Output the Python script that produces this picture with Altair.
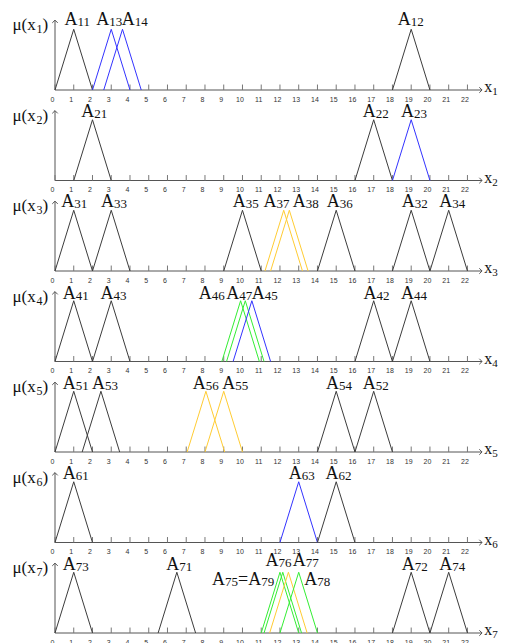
import altair as alt
import pandas as pd

# ---------------- data ----------------
X_TICKS = list(range(0, 23))
PANEL_IDS = [1, 2, 3, 4, 5, 6, 7]

tri_panel = [1, 1, 1, 1,
             2, 2, 2,
             3, 3, 3, 3, 3, 3, 3, 3,
             4, 4, 4, 4, 4, 4, 4,
             5, 5, 5, 5, 5, 5,
             6, 6, 6,
             7, 7, 7, 7, 7, 7, 7, 7]
tri_name = ["A11", "A13", "A14", "A12",
            "A21", "A22", "A23",
            "A31", "A33", "A35", "A37", "A38", "A36", "A32", "A34",
            "A41", "A43", "A46", "A47", "A45", "A42", "A44",
            "A51", "A53", "A56", "A55", "A54", "A52",
            "A61", "A63", "A62",
            "A73", "A71", "A75", "A76", "A77", "A78", "A72", "A74"]
tri_left = [0, 2, 2.6, 18,
            1, 16, 18,
            0, 2, 9, 11.2, 11.5, 14, 18, 20,
            0, 2, 8.9, 9.15, 9.5, 16, 18,
            0, 1.45, 7.05, 8, 14, 16,
            0, 12, 14,
            0, 5.5, 11, 11.15, 11.45, 12, 18, 20]
tri_peak = [1, 3, 3.6, 19,
            2, 17, 19,
            1, 3, 10, 12.2, 12.5, 15, 19, 21,
            1, 3, 9.9, 10.15, 10.5, 17, 19,
            1, 2.45, 8.05, 9, 15, 17,
            1, 13, 15,
            1, 6.5, 12, 12.15, 12.45, 13, 19, 21]
tri_right = [2, 4, 4.6, 20,
             3, 18, 20,
             2, 4, 11, 13.2, 13.5, 16, 20, 22,
             2, 4, 10.9, 11.15, 11.5, 18, 20,
             2, 3.45, 9.05, 10, 16, 18,
             2, 14, 16,
             2, 7.5, 13, 13.15, 13.45, 14, 20, 22]
tri_color = ["k", "b", "b", "k",
             "k", "k", "b",
             "k", "k", "k", "y", "y", "k", "k", "k",
             "k", "k", "g", "g", "b", "k", "k",
             "k", "k", "y", "y", "k", "k",
             "k", "b", "k",
             "k", "k", "g", "g", "y", "g", "k", "k"]

lab_panel = [1, 1, 1, 1,
             2, 2, 2,
             3, 3, 3, 3, 3, 3, 3, 3,
             4, 4, 4, 4, 4, 4, 4,
             5, 5, 5, 5, 5, 5,
             6, 6, 6,
             7, 7, 7, 7, 7, 7, 7, 7]
lab_text = ["A{11}", "A{13}", "A{14}", "A{12}",
            "A{21}", "A{22}", "A{23}",
            "A{31}", "A{33}", "A{35}", "A{37}", "A{38}", "A{36}", "A{32}", "A{34}",
            "A{41}", "A{43}", "A{46}", "A{47}", "A{45}", "A{42}", "A{44}",
            "A{51}", "A{53}", "A{56}", "A{55}", "A{54}", "A{52}",
            "A{61}", "A{63}", "A{62}",
            "A{73}", "A{71}", "A{75}=A{79}", "A{76}", "A{77}", "A{78}", "A{72}", "A{74}"]
lab_x = [0.51, 2.2, 3.56, 18.28,
         1.4, 16.42, 18.46,
         0.33, 2.46, 9.48, 11.12, 12.68, 14.5, 18.5, 20.5,
         0.42, 2.43, 7.67, 9.13, 10.5, 16.45, 18.46,
         0.42, 1.98, 7.35, 8.92, 14.46, 16.42,
         0.42, 12.47, 14.43,
         0.42, 5.93, 8.38, 11.23, 12.68, 13.3, 18.5, 20.5]
lab_y = [1.066, 1.066, 1.066, 1.066,
         1.04, 1.04, 1.04,
         1.05, 1.05, 1.05, 1.05, 1.05, 1.05, 1.05, 1.05,
         1.03, 1.03, 1.03, 1.03, 1.03, 1.03, 1.03,
         1.03, 1.03, 1.03, 1.03, 1.03, 1.03,
         1.05, 1.05, 1.05,
         1.03, 1.03, 0.79, 1.1, 1.1, 0.79, 1.03, 1.03]

# ---------------- styling / layout ----------------
COLORS = {"k": "#3c3c3c", "b": "#3333ff", "y": "#ffcc33", "g": "#33ee33"}
AXIS_COLOR = "#555555"
SERIF = "Liberation Serif"

XMAX = 22.83
W = 428
PXU = W / XMAX
YMAX = 1.35
H = 82
PYU = H / YMAX
X_ARROW = 22.78
Y_ARROW = 1.15
TICK_H = 0.09
XNAME_X = 22.9

CHAR_W = {"A": 0.722, "=": 0.564, "\u03bc": 0.576, "(": 0.333, ")": 0.333, "x": 0.5}


def segments(s):
    out, buf = [], ""
    for ch in s:
        if ch == "{":
            if buf:
                out.append((buf, False))
            buf = ""
        elif ch == "}":
            out.append((buf, True))
            buf = ""
        else:
            buf += ch
    if buf:
        out.append((buf, False))
    return out


def text_rows(s, x, y, main_size, sub_size, sub_drop, dx0=0.0, dy0=0.0):
    rows, dx = [], dx0
    for t, is_sub in segments(s):
        fs = sub_size if is_sub else main_size
        dy = dy0 + (sub_drop if is_sub else 0)
        rows.append({"x": x + dx / PXU, "y": y - dy / PYU, "t": t, "fs": fs})
        dx += sum(CHAR_W.get(c, 0.5) for c in t) * fs
    return rows


XS = alt.Scale(domain=[0, XMAX], nice=False, zero=False)
YS = alt.Scale(domain=[0, YMAX], nice=False, zero=False)
XAX = alt.Axis(values=X_TICKS, ticks=False, domain=False, grid=False, title=None,
               labelFontSize=7, labelFont="Liberation Sans", labelColor="#333333",
               labelPadding=5, labelOffset=-3, labelFlush=False, labelOverlap=False)


def X(f="x"):
    return alt.X(f"{f}:Q", scale=XS, axis=XAX)


def Y(f="y"):
    return alt.Y(f"{f}:Q", scale=YS, axis=None)


def panel(p):
    tri = []
    for i in range(len(tri_panel)):
        if tri_panel[i] != p:
            continue
        for o, (xv, yv) in enumerate([(tri_left[i], 0), (tri_peak[i], 1), (tri_right[i], 0)]):
            tri.append({"name": tri_name[i], "x": xv, "y": yv, "ord": o,
                        "col": COLORS[tri_color[i]]})
    lines = alt.Chart(pd.DataFrame(tri)).mark_line(strokeWidth=1).encode(
        x=X(), y=Y(), detail="name:N", order="ord:Q",
        color=alt.Color("col:N", scale=None))

    base = alt.Chart(pd.DataFrame({"x": [0], "x2": [X_ARROW], "y": [0]})).mark_rule(
        color=AXIS_COLOR, strokeWidth=1).encode(x=X(), x2="x2:Q", y=Y())
    yax = alt.Chart(pd.DataFrame({"x": [0], "y": [0], "y2": [Y_ARROW]})).mark_rule(
        color=AXIS_COLOR, strokeWidth=1).encode(x=X(), y=Y(), y2="y2:Q")
    ticks = alt.Chart(pd.DataFrame({"x": X_TICKS, "y": [0] * len(X_TICKS),
                                    "y2": [TICK_H] * len(X_TICKS)})).mark_rule(
        color="#777777", strokeWidth=1).encode(x=X(), y=Y(), y2="y2:Q")
    xarrow = alt.Chart(pd.DataFrame({"x": [X_ARROW], "y": [0]})).mark_point(
        shape="M -1 -1 L 0 0 L -1 1", filled=False, size=30, color=AXIS_COLOR,
        strokeWidth=1, opacity=1).encode(x=X(), y=Y())
    yarrow = alt.Chart(pd.DataFrame({"x": [0], "y": [Y_ARROW]})).mark_point(
        shape="M -1 1 L 0 0 L 1 1", filled=False, size=30, color=AXIS_COLOR,
        strokeWidth=1, opacity=1).encode(x=X(), y=Y())

    rows = []
    for i in range(len(lab_panel)):
        if lab_panel[i] == p:
            rows += text_rows(lab_text[i], lab_x[i], lab_y[i], 18, 13, 1)
    # axis names
    rows += text_rows("\u03bc(x{%d})" % p, 0, 0.985, 17, 12, 3, dx0=-42.5)
    rows += text_rows("x{%d}" % p, XNAME_X, 0, 16, 11, 3, dy0=2)
    labels = alt.Chart(pd.DataFrame(rows)).mark_text(
        align="left", baseline="alphabetic", font=SERIF, color="#111111").encode(
        x=X(), y=Y(), text="t:N", size=alt.Size("fs:Q", scale=None))

    return alt.layer(base, yax, ticks, xarrow, yarrow, lines, labels).properties(
        width=W, height=H)


chart = alt.vconcat(*[panel(p) for p in PANEL_IDS], spacing=8.5, bounds="flush").configure_view(
    strokeWidth=0).properties(padding={"left": 4, "top": 0, "right": 0, "bottom": 0})

chart.save("out.html", embed_options={"renderer": "svg", "actions": False})
